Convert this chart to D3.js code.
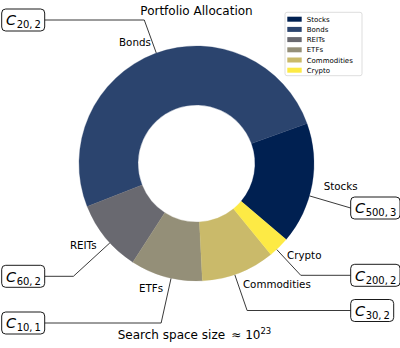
<!DOCTYPE html>
<html><head><meta charset="utf-8">
<script src="https://cdn.jsdelivr.net/npm/d3@7"></script>
<style>body{margin:0;background:#fff} svg{display:block} text{font-family:"DejaVu Sans",sans-serif;fill:#000}</style>
</head><body><svg id="c" width="400" height="348"></svg>
<script>
// ---- data ----
const categories = ["Stocks", "Bonds", "REITs", "ETFs", "Commodities", "Crypto"];
const allocation = [16.7, 50.4, 9.9, 9.9, 10.1, 2.9];
const poolSizes = [500, 20, 60, 10, 30, 200];
const picks = [3, 2, 2, 1, 2, 2];
const chartTitle = "Portfolio Allocation";
const searchLabel = "Search space size";
const searchExponent = 23;

// ---- layout ----
const W = 400, H = 348;
const cx = 196.5, cy = 163.5, R = 117.5, r = 58.5;
const startMathDeg = -40.3;              // counter-clockwise from 3 o'clock
const anchorMathDeg = [-16, 110, 222.5, 257.5, 289, -47];
const boxCenterY = [208, 20, 276.3, 323, 310.5, 275.3];
const leftBoxX = 1.7, rightBoxX = 350.7;

const rad = d => d * Math.PI / 180;
const svg = d3.select("#c");
const colors = categories.map((c, i) => d3.interpolateCividis(i / (categories.length - 1)));
const color = d3.scaleOrdinal().domain(categories).range(colors);

const data = categories.map((c, i) => ({ cat: c, value: allocation[i], i }));
const a0 = rad(90 - startMathDeg);
const pie = d3.pie().sort(null).value(d => d.value).startAngle(a0).endAngle(a0 - 2 * Math.PI);
const arcs = pie(data);
const arc = d3.arc().innerRadius(r).outerRadius(R);

const g = svg.append("g").attr("transform", `translate(${cx},${cy})`);
g.selectAll("path.w").data(arcs).join("path")
  .attr("class", "w")
  .attr("d", arc)
  .attr("fill", d => color(d.data.cat))
  .attr("stroke", d => color(d.data.cat))
  .attr("stroke-width", 0.3);

// category labels at 1.1 R
arcs.forEach(d => {
  const mid = rad(90) - (d.startAngle + d.endAngle) / 2;
  const x = 1.1 * R * Math.cos(mid), y = -1.1 * R * Math.sin(mid);
  g.append("text")
    .attr("x", x).attr("y", y).attr("dy", "0.36em")
    .attr("text-anchor", x > 0 ? "start" : "end")
    .style("font-size", "10.3px")
    .text(d.data.cat);
});

// annotation boxes
categories.forEach((c, i) => {
  const phi = rad(anchorMathDeg[i]);
  const px = cx + R * Math.cos(phi), py = cy - R * Math.sin(phi);
  const dx = Math.cos(phi), dy = -Math.sin(phi);
  const by = boxCenterY[i];
  const left = Math.cos(phi) < 0;

  const bg = svg.append("g");
  const t = bg.append("text").attr("y", by + 5.2);
  t.append("tspan").style("font-size", "14.5px").style("font-style", "italic").text("C");
  t.append("tspan").style("font-size", "10px").attr("dy", 3).attr("dx", 0.5)
    .text(poolSizes[i] + ",\u2009" + picks[i]);
  const tw = t.node().getComputedTextLength();
  const pad = 4.3;
  const bw = tw + 2 * pad, bh = 22;
  const bx = left ? leftBoxX : rightBoxX;
  t.attr("x", bx + pad);
  bg.insert("rect", "text")
    .attr("x", bx).attr("y", by - bh / 2).attr("width", bw).attr("height", bh)
    .attr("rx", 4).attr("ry", 4)
    .attr("fill", "#fff").attr("stroke", "#000").attr("stroke-width", 0.9);

  const tt = (by - py) / dy;
  let kx = px + tt * dx;
  const edgeX = left ? bx + bw : bx;
  if (left) kx = Math.max(kx, edgeX); else kx = Math.min(kx, edgeX);
  svg.insert("path", "g")
    .attr("d", d3.line()([[px, py], [kx, by], [edgeX, by]]))
    .attr("fill", "none").attr("stroke", "#222").attr("stroke-width", 0.9);
});

// title
svg.append("text").attr("x", cx).attr("y", 15).attr("text-anchor", "middle")
  .style("font-size", "12px").text(chartTitle);

// bottom text
const bt = svg.append("text").attr("x", cx - 2).attr("y", 339).attr("text-anchor", "middle")
  .style("font-size", "12px");
bt.append("tspan").text(searchLabel + " \u2009\u2248 10");
bt.append("tspan").attr("dy", -5).style("font-size", "8.5px").text(String(searchExponent));

// legend
const lg = svg.append("g").attr("transform", "translate(285,12.3)");
lg.append("rect").attr("width", 77).attr("height", 63.4).attr("rx", 2)
  .attr("fill", "#fff").attr("fill-opacity", 0.8).attr("stroke", "#d4d4d4").attr("stroke-width", 0.8);
categories.forEach((c, i) => {
  const yy = 6.9 + i * 10.2;
  lg.append("rect").attr("x", 2.3).attr("y", yy - 2.5).attr("width", 14.4).attr("height", 5)
    .attr("fill", color(c));
  lg.append("text").attr("x", 21.7).attr("y", yy).attr("dy", "0.36em")
    .style("font-size", "7px").text(c);
});
</script></body></html>
